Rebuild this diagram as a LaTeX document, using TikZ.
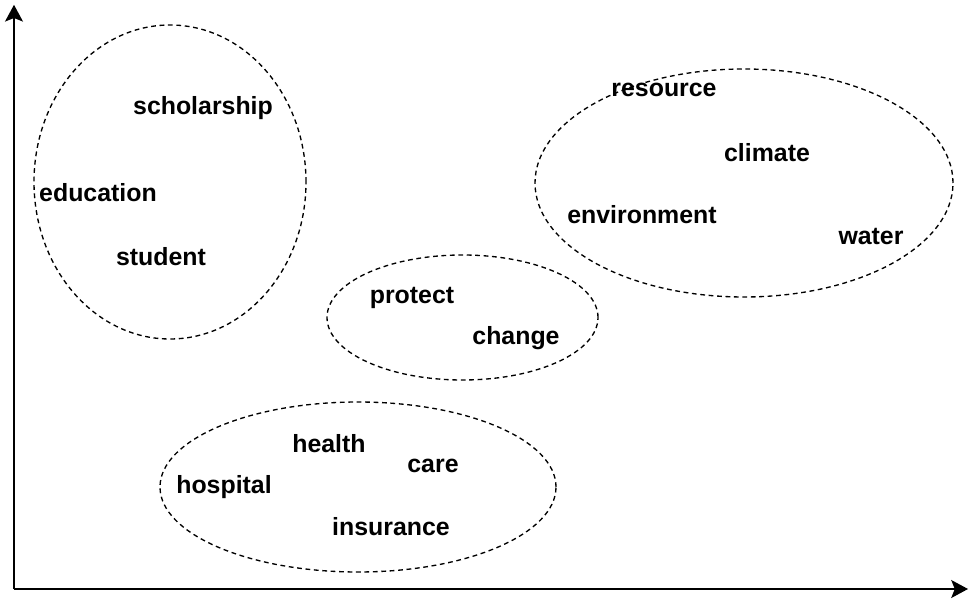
\documentclass[tikz,border=0pt]{standalone}
\usepackage{fontspec}
\setmainfont{Liberation Sans}
\usetikzlibrary{arrows.meta, shapes.geometric}

\begin{document}
\begin{tikzpicture}[
    axis_style/.style={line width=1.1pt, -{Stealth[length=0.42cm, width=0.45cm, inset=0.09cm]}},
    group_style/.style={ellipse, draw, line width=0.95pt, dash pattern=on 3.4pt off 2.6pt, inner sep=0pt, outer sep=0pt},
    word_style/.style={font=\fontsize{17.7}{20}\selectfont\bfseries, inner sep=0pt}
]
\useasboundingbox (0,0) rectangle (24.225,14.95);

% AXES
\coordinate (origin) at (0.35,0.225);
\coordinate (y_end) at (0.35,14.83);
\coordinate (x_end) at (24.2,0.225);
\draw[axis_style] (origin) -- (y_end);
\draw[axis_style] (origin) -- (x_end);

% CLUSTERS
\node[group_style, minimum width=6.8cm, minimum height=7.85cm] (edu_group) at (4.25,10.4) {};
\node[group_style, minimum width=10.45cm, minimum height=5.7cm] (env_group) at (18.6,10.375) {};
\node[group_style, minimum width=6.775cm, minimum height=3.125cm] (mid_group) at (11.5625,7.0125) {};
\node[group_style, minimum width=9.9cm, minimum height=4.25cm] (care_group) at (8.95,2.775) {};

% Education words
\node[word_style] (scholarship) at (5.075,12.25) {scholarship};
\node[word_style] (education) at (2.45,10.125) {education};
\node[word_style] (student) at (4.025,8.525) {student};

% Environment words
\node[word_style] (resource) at (16.6,12.7) {resource};
\node[word_style] (climate) at (19.175,11.125) {climate};
\node[word_style] (environment) at (16.05,9.575) {environment};
\node[word_style] (water) at (21.775,9.025) {water};

% Middle words
\node[word_style] (protect) at (10.3,7.5) {protect};
\node[word_style] (change) at (12.9,6.5) {change};

% Health words
\node[word_style] (health) at (8.225,3.85) {health};
\node[word_style] (care) at (10.825,3.3) {care};
\node[word_style] (hospital) at (5.6,2.775) {hospital};
\node[word_style] (insurance) at (9.775,1.775) {insurance};

\end{tikzpicture}
\end{document}
